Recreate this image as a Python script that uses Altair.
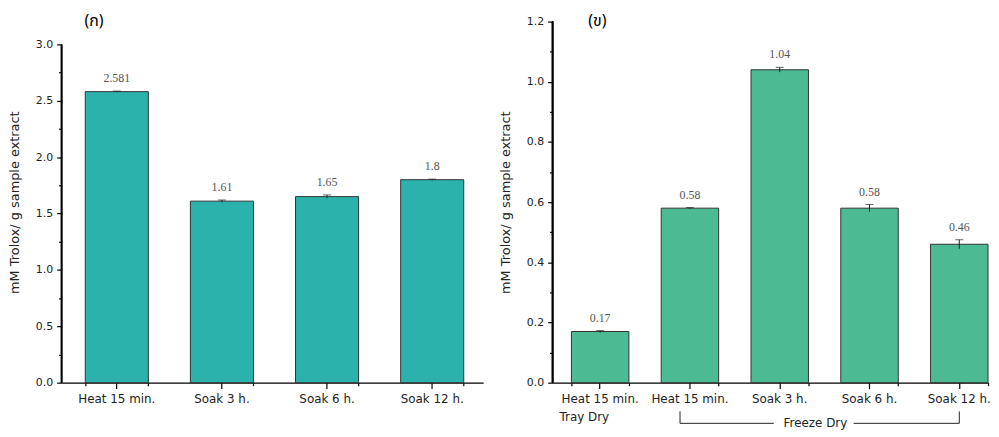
import altair as alt
import pandas as pd

# ---------------- data ----------------
left_cats = ["Heat 15 min.", "Soak 3 h.", "Soak 6 h.", "Soak 12 h."]
left_vals = [2.581, 1.61, 1.65, 1.80]
left_err = [0.005, 0.010, 0.015, 0.005]
left_text = ["2.581", "1.61", "1.65", "1.8"]

right_keys = ["TD Heat 15 min.", "FD Heat 15 min.", "FD Soak 3 h.", "FD Soak 6 h.", "FD Soak 12 h."]
right_vals = [0.17, 0.58, 1.04, 0.58, 0.46]
right_err = [0.003, 0.002, 0.008, 0.012, 0.015]
right_text = ["0.17", "0.58", "1.04", "0.58", "0.46"]

left_major = [0.0, 0.5, 1.0, 1.5, 2.0, 2.5, 3.0]
left_minor = [0.25, 0.75, 1.25, 1.75, 2.25, 2.75]
right_major = [0.0, 0.2, 0.4, 0.6, 0.8, 1.0, 1.2]
right_minor = [0.1, 0.3, 0.5, 0.7, 0.9, 1.1]

YTITLE = "mM Trolox/ g sample extract"
FONT = "DejaVu Sans"
THAI = "Noto Sans Thai, Loma, Garuda, Tlwg Typo, DejaVu Sans, sans-serif"
H = 364


def panel(cats, vals, errs, texts, domain, axis_top, major, minor,
          fill, band, title, title_x, label_expr=None):
    df = pd.DataFrame({"cat": cats, "val": vals, "err": errs, "txt": texts})
    df["lo"] = df["val"] - df["err"]
    df["hi"] = df["val"] + df["err"]
    xscale = alt.Scale(domain=cats, **band)
    yscale = alt.Scale(domain=domain, nice=False, zero=True)

    xaxis_kw = dict(title=None, labelAngle=0, tickSize=6, tickColor="black",
                    domainColor="black", domainWidth=1.3, tickWidth=1.2,
                    labelFont=FONT, labelFontSize=12, labelColor="#222",
                    labelPadding=5, grid=False)
    if label_expr:
        xaxis_kw["labelExpr"] = label_expr
    base = alt.Chart(df)

    bars = base.mark_bar(fill=fill, stroke="#333", strokeWidth=1).encode(
        x=alt.X("cat:N", scale=xscale, sort=cats, axis=alt.Axis(**xaxis_kw)),
        y=alt.Y("val:Q", scale=yscale, axis=alt.Axis(
            values=major, format=".1f", title=YTITLE, titleFont=FONT,
            titleFontSize=13, titleFontWeight="normal", titleColor="#222",
            titlePadding=14, labelFont=FONT, labelFontSize=11, labelColor="#222",
            tickSize=5, tickWidth=1.2, tickColor="black", domain=False,
            grid=False, labelPadding=4)),
    )
    yline = base.mark_rule(color="black", strokeWidth=1.4).encode(
        x=alt.value(0),
        y=alt.YDatum(0.0, scale=yscale, axis=None), y2=alt.datum(axis_top))
    rule = base.mark_rule(color="#222", strokeWidth=1).encode(
        x=alt.X("cat:N", scale=xscale, sort=cats, axis=alt.Axis(
            orient="bottom", tickBand="extent", tickSize=3, tickWidth=1.2,
            tickColor="black", labels=False, domain=False, title=None, grid=False)),
        y=alt.Y("lo:Q", scale=yscale, axis=alt.Axis(
            orient="left", values=minor, tickSize=3, tickWidth=1.2,
            tickColor="black", labels=False, domain=False, title=None, grid=False)),
        y2="hi:Q",
    )
    caps_hi = base.mark_tick(color="#222", size=8, thickness=1, orient="horizontal").encode(
        x=alt.X("cat:N", scale=xscale, sort=cats, axis=None),
        y=alt.Y("hi:Q", scale=yscale, axis=None),
    )
    txt = base.mark_text(baseline="bottom", dy=-6, font="Liberation Serif",
                         fontSize=12, color="#555").encode(
        x=alt.X("cat:N", scale=xscale, sort=cats, axis=None),
        y=alt.Y("hi:Q", scale=yscale, axis=None),
        text="txt:N",
    )
    ttl = alt.Chart(pd.DataFrame({"t": [title]})).mark_text(
        align="left", baseline="middle", font=THAI, fontSize=16, color="black").encode(
        x=alt.value(title_x), y=alt.value(-1), text="t:N")
    return [bars, rule, caps_hi, txt, yline, ttl], xscale


# ---------------- left panel ----------------
L_layers, _ = panel(left_cats, left_vals, left_err, left_text, [0, 3.202], 3.0,
                    left_major, left_minor, "#2bb2ad",
                    dict(paddingInner=0.4, paddingOuter=0.205, align=0.55),
                    "(ก)", 23)
left = alt.layer(*L_layers).resolve_axis(x="independent", y="independent").properties(
    width=425, height=H)

# ---------------- right panel ----------------
R_layers, rxs = panel(right_keys, right_vals, right_err, right_text, [0, 1.2], 1.2,
                      right_major, right_minor, "#4cbb93",
                      dict(paddingInner=0.36, paddingOuter=0.105, align=1),
                      "(ข)", 36, label_expr="substring(datum.value, 3)")

tray = pd.DataFrame({"cat": [right_keys[0]], "t": ["Tray Dry"]})
tray_txt = alt.Chart(tray).mark_text(align="left", baseline="middle", dx=-41,
                                     font=FONT, fontSize=12, color="#222").encode(
    x=alt.X("cat:N", scale=rxs, sort=right_keys, axis=None),
    y=alt.value(399), text="t:N")

BR_Y = 405
fd_tick_a = alt.Chart(pd.DataFrame({"cat": [right_keys[1]]})).mark_rule(
    color="#222", strokeWidth=1, xOffset=-10).encode(
    x=alt.X("cat:N", scale=rxs, sort=right_keys, axis=None),
    y=alt.value(BR_Y - 12), y2=alt.value(BR_Y))
fd_tick_b = alt.Chart(pd.DataFrame({"cat": [right_keys[4]]})).mark_rule(
    color="#222", strokeWidth=1).encode(
    x=alt.X("cat:N", scale=rxs, sort=right_keys, axis=None),
    y=alt.value(BR_Y - 12), y2=alt.value(BR_Y))

seg_df = pd.DataFrame({"a": [right_keys[1], right_keys[3]],
                       "b": [right_keys[2], right_keys[4]]})
seg1 = alt.Chart(seg_df.iloc[[0]]).mark_rule(color="#222", strokeWidth=1,
                                             xOffset=-10, x2Offset=-6).encode(
    x=alt.X("a:N", scale=rxs, sort=right_keys, axis=None),
    x2="b:N", y=alt.value(BR_Y))
seg2 = alt.Chart(seg_df.iloc[[1]]).mark_rule(color="#222", strokeWidth=1,
                                             xOffset=-16).encode(
    x=alt.X("a:N", scale=rxs, sort=right_keys, axis=None),
    x2="b:N", y=alt.value(BR_Y))
fd_txt = alt.Chart(pd.DataFrame({"cat": [right_keys[2]], "t": ["Freeze Dry"]})).mark_text(
    align="center", baseline="middle", dx=36, font=FONT, fontSize=12, color="#222").encode(
    x=alt.X("cat:N", scale=rxs, sort=right_keys, axis=None),
    y=alt.value(BR_Y), text="t:N")

right = alt.layer(*R_layers, tray_txt, fd_tick_a, fd_tick_b, seg1, seg2, fd_txt).resolve_axis(
    x="independent", y="independent").properties(width=439, height=H)

chart = alt.hconcat(left, right, spacing=16).properties(
    padding={"left": 0, "top": 3, "right": 0, "bottom": 0},
    background="white",
).configure_view(stroke=None)

chart.save("out.html", embed_options={"renderer": "svg", "actions": False})
